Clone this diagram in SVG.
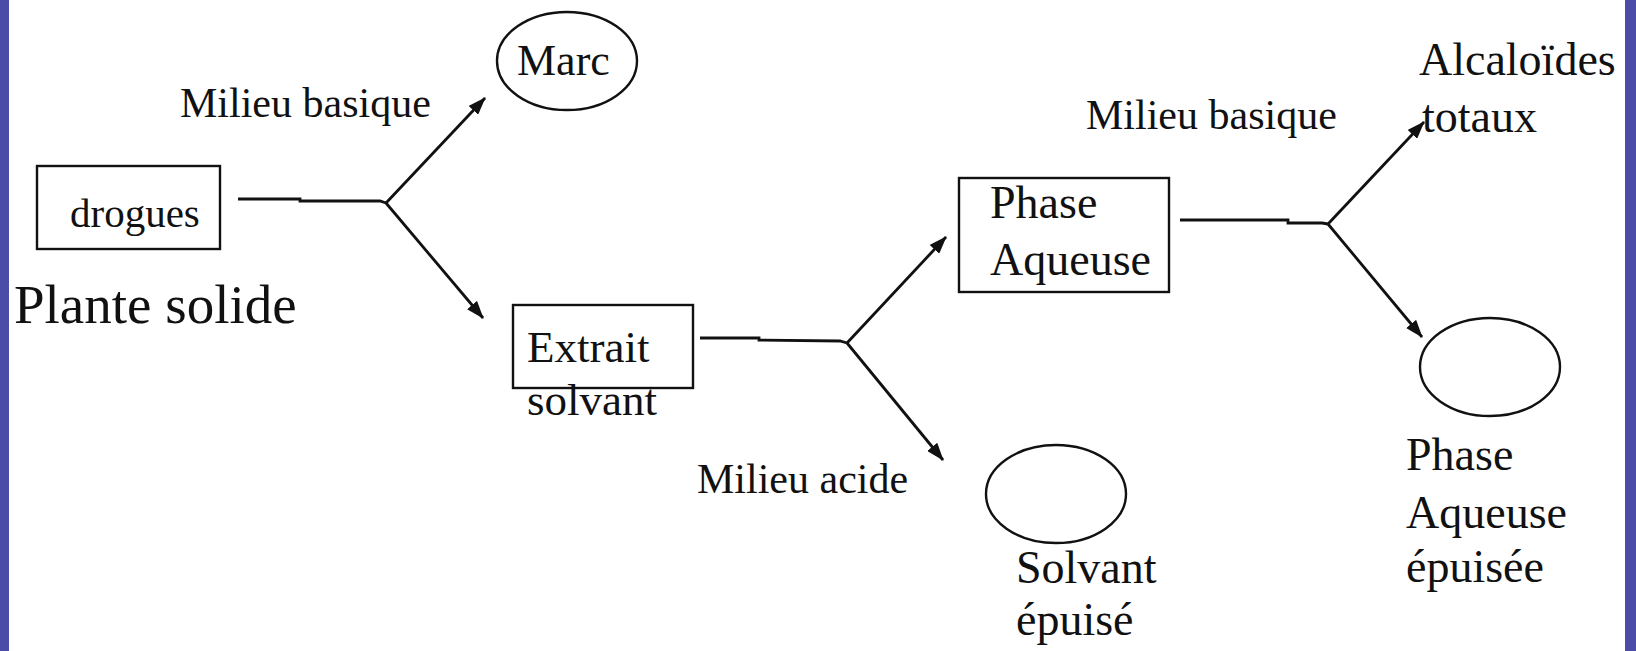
<svg xmlns="http://www.w3.org/2000/svg" width="1636" height="651" viewBox="0 0 1636 651">
<style>
.box { fill: none; stroke: #111; stroke-width: 2.4; }
.conn { fill: none; stroke: #111; stroke-width: 2.8; }
.arr { fill: none; stroke: #111; stroke-width: 2.8; marker-end: url(#ah); }
.t { font-family: 'Liberation Serif', serif; fill: #111; }
</style>
<defs>
<marker id="ah" viewBox="0 0 18 13" refX="17" refY="6.5" markerWidth="18" markerHeight="13" markerUnits="userSpaceOnUse" orient="auto">
<path d="M0,0 L18,6.5 L0,13 z" fill="#111"/>
</marker>
</defs>
<rect x="0" y="0" width="1636" height="651" fill="#ffffff"/>
<rect x="0" y="0" width="9" height="651" fill="#4b4ba8"/>
<rect x="1625" y="0" width="11" height="651" fill="#4b4ba8"/>

<g id="connectors">
<polyline class="conn" points="238,199 300,199 300,201 380,201 386,203"/>
<line class="arr" x1="386" y1="203" x2="485" y2="98"/>
<line class="arr" x1="386" y1="203" x2="483" y2="318"/>
<polyline class="conn" points="700,338 759,338 759,340 840,341 847,343"/>
<line class="arr" x1="847" y1="343" x2="946" y2="237"/>
<line class="arr" x1="847" y1="343" x2="943" y2="460"/>
<polyline class="conn" points="1180,220 1288,220 1288,223 1322,223 1328,224"/>
<line class="arr" x1="1328" y1="224" x2="1424" y2="122"/>
<line class="arr" x1="1328" y1="224" x2="1422" y2="337"/>
</g>

<g id="node-drogues">
<rect class="box" x="37" y="166" width="183" height="83"/>
<text class="t" x="70" y="227" font-size="41">drogues</text>
</g>
<g id="label-plante">
<text class="t" x="14" y="323" font-size="55">Plante solide</text>
</g>
<g id="label-basique1">
<text class="t" x="180" y="117" font-size="42">Milieu basique</text>
</g>
<g id="node-marc">
<ellipse class="box" cx="567" cy="61" rx="70" ry="49"/>
<text class="t" x="517" y="75" font-size="44">Marc</text>
</g>
<g id="node-extrait">
<rect class="box" x="513" y="305" width="180" height="83"/>
<text class="t" x="527" y="362" font-size="45">Extrait</text>
<text class="t" x="527" y="415" font-size="45">solvant</text>
</g>
<g id="label-acide">
<text class="t" x="697" y="493" font-size="42">Milieu acide</text>
</g>
<g id="node-phase">
<rect class="box" x="959" y="178" width="210" height="114"/>
<text class="t" x="990" y="218" font-size="46">Phase</text>
<text class="t" x="990" y="275" font-size="46">Aqueuse</text>
</g>
<g id="node-solvant-epuise">
<ellipse class="box" cx="1056" cy="494" rx="70" ry="49"/>
<text class="t" x="1016" y="583" font-size="46">Solvant</text>
<text class="t" x="1016" y="635" font-size="46">épuisé</text>
</g>
<g id="label-basique2">
<text class="t" x="1086" y="129" font-size="42">Milieu basique</text>
</g>
<g id="node-alcaloides">
<text class="t" x="1419" y="75" font-size="46">Alcaloïdes</text>
<text class="t" x="1422" y="132" font-size="46">totaux</text>
</g>
<g id="node-phase-epuisee">
<ellipse class="box" cx="1490" cy="367" rx="70" ry="49"/>
<text class="t" x="1406" y="470" font-size="46">Phase</text>
<text class="t" x="1406" y="528" font-size="46">Aqueuse</text>
<text class="t" x="1406" y="582" font-size="46">épuisée</text>
</g>
</svg>
